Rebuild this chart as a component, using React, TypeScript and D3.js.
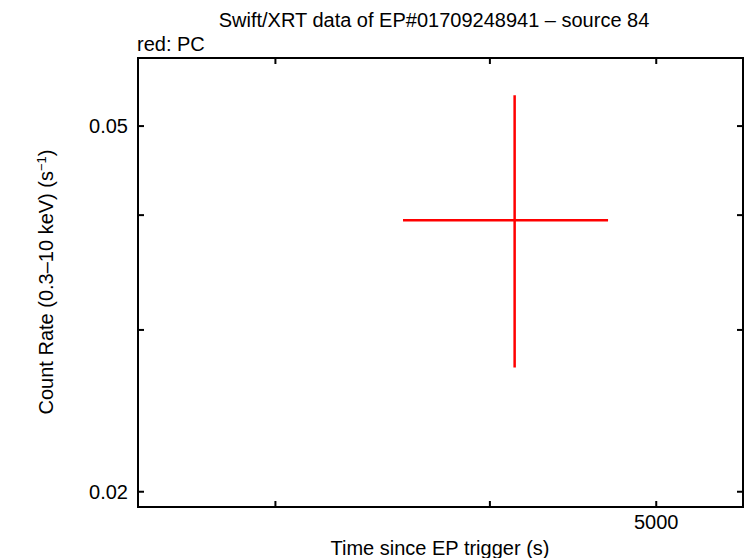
import React from "react";
import * as d3 from "d3";

// one PC-mode bin
const times = [4135];
const timeErrNeg = [575];
const timePos = [552];
const rates = [0.0395];
const rateErrPos = [0.0145];
const rateErrNeg = [0.0122];

const yTicks = [0.02, 0.03, 0.04, 0.05];
const yTickLabels = ["0.02", "", "", "0.05"];
const xTicks = [3000, 4000, 5000];
const xTickLabels = ["", "", "5000"];

const W = 746;
const H = 558;
const margin = { left: 138, right: 3, top: 58, bottom: 51 };
const font = "'Liberation Sans', Arial, Helvetica, sans-serif";

export default function App() {
  const x = d3
    .scaleLog()
    .domain([2495, 5617])
    .range([margin.left, W - margin.right]);
  const y = d3
    .scaleLog()
    .domain([0.01925, 0.0593])
    .range([H - margin.bottom, margin.top]);

  const x0 = margin.left;
  const x1 = W - margin.right;
  const y0 = H - margin.bottom;
  const y1 = margin.top;
  const tl = 6;

  return (
    <svg
      width={W}
      height={H}
      style={{ position: "absolute", left: 0, top: 0, background: "#fff" }}
      fontFamily={font}
    >
      <rect width={W} height={H} fill="#fff" />
      <text x={434} y={27} fontSize={20} textAnchor="middle">
        Swift/XRT data of EP#01709248941 – source 84
      </text>
      <text x={137} y={51} fontSize={20}>
        red: PC
      </text>

      {yTicks.map((t, i) => (
        <g key={"y" + i}>
          <line x1={x0} x2={x0 + tl} y1={y(t)} y2={y(t)} stroke="#000" strokeWidth={2} />
          <line x1={x1} x2={x1 - tl} y1={y(t)} y2={y(t)} stroke="#000" strokeWidth={2} />
          {yTickLabels[i] && (
            <text x={128} y={y(t) + 7} fontSize={20} textAnchor="end">
              {yTickLabels[i]}
            </text>
          )}
        </g>
      ))}
      {xTicks.map((t, i) => (
        <g key={"x" + i}>
          <line x1={x(t)} x2={x(t)} y1={y0} y2={y0 - tl} stroke="#000" strokeWidth={2} />
          <line x1={x(t)} x2={x(t)} y1={y1} y2={y1 + tl} stroke="#000" strokeWidth={2} />
          {xTickLabels[i] && (
            <text x={x(t)} y={529} fontSize={20} textAnchor="middle">
              {xTickLabels[i]}
            </text>
          )}
        </g>
      ))}

      {times.map((t, i) => (
        <g key={"p" + i} stroke="#f00" strokeWidth={2.5}>
          <line
            x1={x(t - timeErrNeg[i])}
            x2={x(t + timePos[i])}
            y1={y(rates[i])}
            y2={y(rates[i])}
          />
          <line
            x1={x(t)}
            x2={x(t)}
            y1={y(rates[i] + rateErrPos[i])}
            y2={y(rates[i] - rateErrNeg[i])}
          />
        </g>
      ))}

      <rect
        x={x0}
        y={y1}
        width={x1 - x0}
        height={y0 - y1}
        fill="none"
        stroke="#000"
        strokeWidth={2}
      />

      <text x={440} y={555} fontSize={20} textAnchor="middle">
        Time since EP trigger (s)
      </text>
      <text
        transform={`translate(53,282) rotate(-90)`}
        fontSize={20}
        textAnchor="middle"
      >
        Count Rate (0.3–10 keV) (s
        <tspan dy={-7} fontSize={13}>
          −1
        </tspan>
        <tspan dy={7}>)</tspan>
      </text>
    </svg>
  );
}
